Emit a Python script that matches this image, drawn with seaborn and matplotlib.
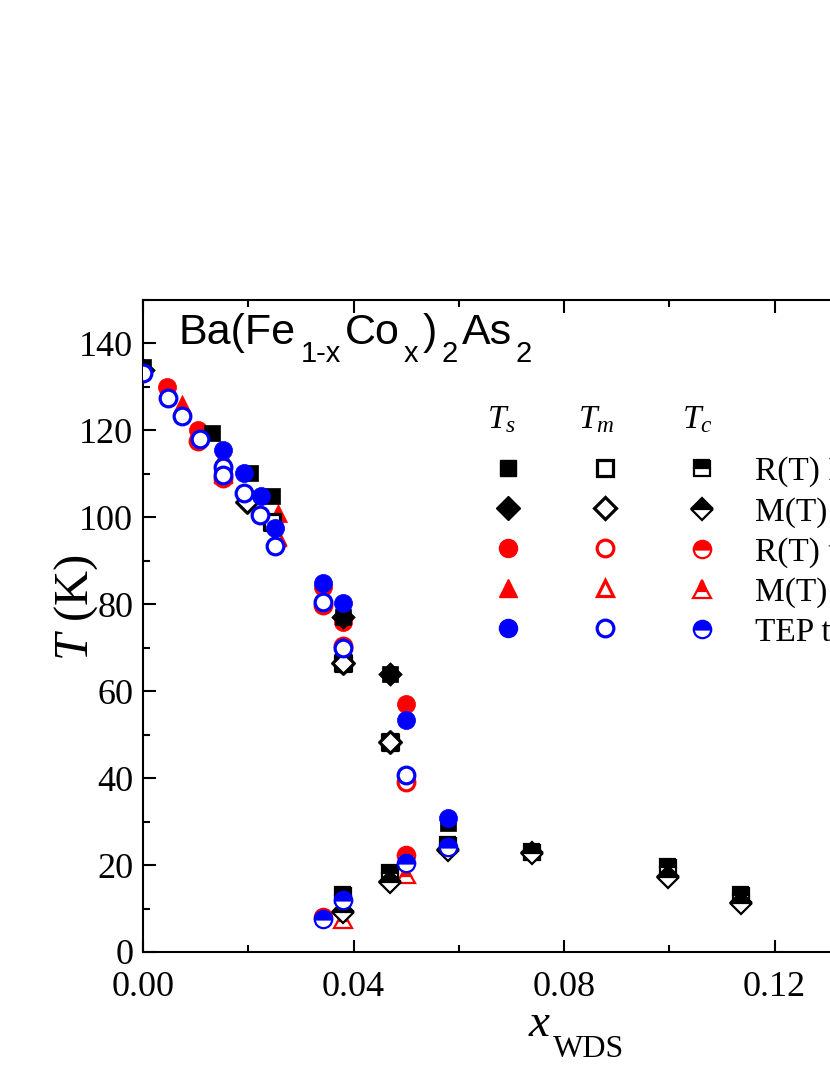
import numpy as np
import pandas as pd
import matplotlib
matplotlib.use('Agg')
import matplotlib.pyplot as plt
from matplotlib.lines import Line2D
import seaborn as sns

# ---- data (x_WDS, T in K) ----
# R(T) reference data, black squares
rt_ref_ts_x = [0.0, 0.0131, 0.0203, 0.0245, 0.038, 0.047, 0.058]
rt_ref_ts_t = [134.5, 119.5, 110.3, 105.0, 77.0, 64.0, 29.6]
rt_ref_tm_x = [0.0245, 0.038, 0.047]
rt_ref_tm_t = [99.0, 66.5, 48.3]
rt_ref_tc_x = [0.038, 0.047, 0.058, 0.074, 0.0998, 0.1136]
rt_ref_tc_t = [13.1, 18.2, 24.6, 23.0, 19.6, 13.1]

# M(T) reference data, black diamonds
mt_ref_ts_x = [0.0, 0.038, 0.047]
mt_ref_ts_t = [134.0, 77.0, 64.0]
mt_ref_tm_x = [0.0198, 0.038, 0.047]
mt_ref_tm_t = [103.5, 66.5, 48.3]
mt_ref_tc_x = [0.038, 0.047, 0.058, 0.074, 0.0998, 0.1136]
mt_ref_tc_t = [9.2, 16.1, 23.4, 22.8, 17.3, 11.3]

# R(T) this work, red circles
rt_tw_ts_x = [0.0046, 0.0105, 0.0152, 0.0342, 0.038, 0.050]
rt_tw_ts_t = [130.0, 120.0, 110.5, 84.0, 76.0, 57.0]
rt_tw_tm_x = [0.0105, 0.0152, 0.0342, 0.038, 0.050]
rt_tw_tm_t = [117.5, 109.0, 79.8, 70.5, 39.0]
rt_tw_tc_x = [0.0342, 0.050]
rt_tw_tc_t = [8.0, 22.3]

# M(T) this work, red triangles
mt_tw_ts_x = [0.0074, 0.0152, 0.0257]
mt_tw_ts_t = [126.0, 114.0, 101.0]
mt_tw_tm_x = [0.0152, 0.0255]
mt_tw_tm_t = [110.0, 95.5]
mt_tw_tc_x = [0.038, 0.050]
mt_tw_tc_t = [7.6, 18.0]

# TEP this work, blue circles
tep_ts_x = [0.0152, 0.0192, 0.0224, 0.0251, 0.0342, 0.038, 0.050, 0.058]
tep_ts_t = [115.5, 110.3, 105.0, 97.5, 85.0, 80.2, 53.3, 30.8]
tep_tm_x = [0.0, 0.0047, 0.0074, 0.0108, 0.0152, 0.0152, 0.0192, 0.0222, 0.0251, 0.0342, 0.038, 0.050]
tep_tm_t = [133.3, 127.4, 123.4, 118.0, 111.5, 109.7, 105.7, 100.5, 93.5, 80.5, 70.0, 40.7]
tep_tc_x = [0.0342, 0.038, 0.050, 0.058]
tep_tc_t = [7.6, 12.0, 20.5, 24.1]

series_names = ['R(T) Ref. [9]', 'M(T) Ref. [9]', 'R(T) this work', 'M(T) this work', 'TEP this work']

# compound name split into normal / subscript pieces
title_parts = [('Ba(Fe', False), ('1-x', True), ('Co', False), ('x', True),
               (')', False), ('2', True), ('As', False), ('2', True)]

sns.set_style('ticks')
plt.rcParams['font.family'] = ['Liberation Serif', 'DejaVu Serif']
plt.rcParams['mathtext.fontset'] = 'custom'
plt.rcParams['mathtext.rm'] = 'Liberation Serif'
plt.rcParams['mathtext.it'] = 'Liberation Serif:italic'
for k in ['text.color', 'axes.labelcolor', 'xtick.color', 'ytick.color', 'axes.edgecolor']:
    plt.rcParams[k] = 'black'

fig = plt.figure(figsize=(8.3, 10.75), dpi=100)
ax = fig.add_axes([143 / 830, 123 / 1075, 842 / 830, 652 / 1075])

# (marker, colour, size) per series, order = drawing order
styles = {
    'rt_tw': ('o', 'red', 13),
    'mt_tw': ('^', 'red', 13),
    'rt_ref': ('s', 'black', 12),
    'mt_ref': ('D', 'black', 12),
    'tep': ('o', 'blue', 13),
}
data = {
    'rt_tw': (rt_tw_ts_x, rt_tw_ts_t, rt_tw_tm_x, rt_tw_tm_t, rt_tw_tc_x, rt_tw_tc_t),
    'mt_tw': (mt_tw_ts_x, mt_tw_ts_t, mt_tw_tm_x, mt_tw_tm_t, mt_tw_tc_x, mt_tw_tc_t),
    'rt_ref': (rt_ref_ts_x, rt_ref_ts_t, rt_ref_tm_x, rt_ref_tm_t, rt_ref_tc_x, rt_ref_tc_t),
    'mt_ref': (mt_ref_ts_x, mt_ref_ts_t, mt_ref_tm_x, mt_ref_tm_t, mt_ref_tc_x, mt_ref_tc_t),
    'tep': (tep_ts_x, tep_ts_t, tep_tm_x, tep_tm_t, tep_tc_x, tep_tc_t),
}

for key in ['rt_tw', 'mt_tw', 'rt_ref', 'mt_ref', 'tep']:
    m, c, ms = styles[key]
    tsx, tst, tmx, tmt, tcx, tct = data[key]
    # filled: T_s
    sns.scatterplot(x=tsx, y=tst, marker=m, s=ms ** 2, color=c, edgecolor=c,
                    linewidth=0.5, ax=ax, zorder=3)
    # open: T_m
    sns.scatterplot(x=tmx, y=tmt, marker=m, s=(ms - 1) ** 2, color='white', edgecolor=c,
                    linewidth=2.3, ax=ax, zorder=3)
    # half filled: T_c
    ax.plot(tcx, tct, ls='none', marker=m, ms=ms - 0.5, mfc=c, mec=c, mew=1.6,
            fillstyle='top', markerfacecoloralt='white', zorder=3)

ax.set_xlim(0, 0.16)
ax.set_ylim(0, 150)
ax.set_xticks(np.arange(0, 0.161, 0.04))
ax.set_xticks(np.arange(0, 0.161, 0.02), minor=True)
ax.set_yticks(np.arange(0, 141, 20))
ax.set_yticks(np.arange(0, 151, 10), minor=True)
ax.set_xticklabels(['0.00', '0.04', '0.08', '0.12', '0.16'])
ax.tick_params(which='both', direction='in', top=True, right=True, width=1.5,
               labelsize=26, colors='black')
ax.tick_params(which='major', length=9)
ax.tick_params(which='minor', length=5)
ax.tick_params(axis='x', pad=14)
ax.tick_params(axis='y', pad=7)
for sp in ax.spines.values():
    sp.set_linewidth(1.5)
    sp.set_color('black')

# x label with a low-sitting subscript, as in the original
ax.set_xlabel(r'$x$', fontsize=34)
ax.set_ylabel(r'$T$ (K)', fontsize=35)
ax.xaxis.set_label_coords((540 - 143) / 842, (952 - 1003) / 652)
ax.yaxis.set_label_coords((100 - 143) / 842, (952 - 608) / 652)
ax.annotate('WDS', xy=(1, 0), xycoords=ax.xaxis.label, xytext=(1, -8),
            textcoords='offset points', fontsize=23, ha='left', va='baseline')

# compound name, pieces chained one after the other
main_fs, sub_fs, drop, gap = 31, 21, 13, 3
desc = 0.21 * main_fs
first = ax.text((179 - 143) / 842, (952 - 344) / 652, title_parts[0][0], transform=ax.transAxes,
                fontsize=main_fs, family='Liberation Sans', va='baseline', ha='left')
prev = first
for txt, is_sub in title_parts[1:]:
    prev = ax.annotate(txt, xy=(1, 0), xycoords=(prev, first),
                       xytext=(gap, desc - drop if is_sub else desc), textcoords='offset points',
                       fontsize=sub_fs if is_sub else main_fs, family='Liberation Sans',
                       va='baseline', ha='left')

# legend: 3 columns of markers (T_s, T_m, T_c), labels on the last column
handles = []
order = ['rt_ref', 'mt_ref', 'rt_tw', 'mt_tw', 'tep']
for kind in ['s', 'm', 'c']:
    for key in order:
        m, c, ms = styles[key]
        if kind == 's':
            h = Line2D([], [], ls='none', marker=m, ms=ms, mfc=c, mec=c)
        elif kind == 'm':
            h = Line2D([], [], ls='none', marker=m, ms=ms - 1, mfc='white', mec=c, mew=2.3)
        else:
            h = Line2D([], [], ls='none', marker=m, ms=ms - 0.5, mfc=c, mec=c, mew=1.6,
                       fillstyle='top', markerfacecoloralt='white')
        handles.append(h)
labels = [''] * 10 + series_names
ax.legend(handles, labels, ncol=3, loc='upper left', bbox_to_anchor=(0.414, 0.761),
          frameon=False, fontsize=24, handlelength=1.0, handletextpad=1.09,
          columnspacing=0.82, labelspacing=0.28, borderpad=0, borderaxespad=0)

for lab, px in [(r'$T_s$', 501), (r'$T_m$', 596), (r'$T_c$', 697)]:
    ax.text((px - 143) / 842, (952 - 428) / 652, lab, transform=ax.transAxes,
            fontsize=24, ha='center', va='baseline')

fig.savefig('out.png', dpi=100)
